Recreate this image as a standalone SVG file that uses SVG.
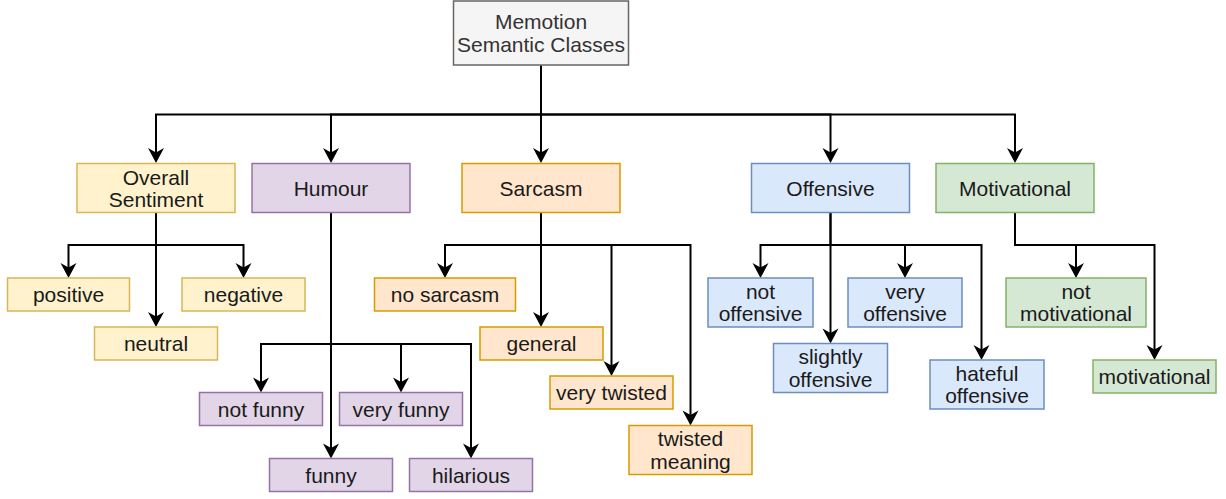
<svg xmlns="http://www.w3.org/2000/svg" width="1226" height="499" viewBox="0 0 1226 499">
<defs>
<marker id="arr" viewBox="-16 -9 20 18" refX="-3" refY="0" markerWidth="20" markerHeight="18" markerUnits="userSpaceOnUse" orient="auto">
<path d="M0,0 L-15,-8 L-10.5,0 L-15,8 Z" fill="#000"/>
</marker>
<style>
rect{stroke-width:1.5}
text{font-family:"Liberation Sans",Arial,sans-serif;font-size:21px;fill:#1a1a1a;text-anchor:middle}
.gray rect{fill:#f5f5f5;stroke:#666666}
.gray text{fill:#333333}
.yel rect{fill:#fff2cc;stroke:#d6b656}
.pur rect{fill:#e1d5e7;stroke:#9673a6}
.ora rect{fill:#ffe6cc;stroke:#d79b00}
.blu rect{fill:#dae8fc;stroke:#6c8ebf}
.gre rect{fill:#d5e8d4;stroke:#82b366}
#connectors path{fill:none;stroke:#000;stroke-width:2;marker-end:url(#arr)}
</style>
</defs>
<rect width="1226" height="499" fill="#fff"/>
<g id="connectors">
<path d="M541,65.5 V114.5 H156 V160"/>
<path d="M541,114.5 H331 V160"/>
<path d="M541,65.5 V160"/>
<path d="M541,114.5 H830.5 V160"/>
<path d="M541,114.5 H1015 V160"/>
<path d="M156,212.5 V245 H68.5 V275"/>
<path d="M156,245 H243.5 V275"/>
<path d="M156,212.5 V324"/>
<path d="M331,212.5 V455.5"/>
<path d="M331,344 H261 V389.5"/>
<path d="M331,344 H401 V389.5"/>
<path d="M331,344 H471 V455.5"/>
<path d="M541,212.5 V245 H445 V275"/>
<path d="M541,212.5 V324"/>
<path d="M541,245 H611.5 V373"/>
<path d="M541,245 H690.5 V422.5"/>
<path d="M830.5,212.5 V245 H760.5 V275"/>
<path d="M830.5,212.5 V340.5"/>
<path d="M830.5,245 H905 V275"/>
<path d="M830.5,245 H981.5 V357"/>
<path d="M1015,212.5 V245 H1076 V275"/>
<path d="M1076,245 H1154.5 V357"/>
</g>
<g id="root" class="gray"><rect x="453.5" y="1" width="175" height="64"/><text x="541" y="29">Memotion</text><text x="541" y="51.5">Semantic Classes</text></g>
<g id="overall" class="yel"><rect x="77" y="163.5" width="158" height="49"/><text x="156" y="184.5">Overall</text><text x="156" y="206.5">Sentiment</text></g>
<g id="humour" class="pur"><rect x="252" y="163.5" width="158" height="49"/><text x="331" y="196">Humour</text></g>
<g id="sarcasm" class="ora"><rect x="462" y="163.5" width="158" height="49"/><text x="541" y="196">Sarcasm</text></g>
<g id="offensive" class="blu"><rect x="751.5" y="163.5" width="158" height="49"/><text x="830.5" y="196">Offensive</text></g>
<g id="motivational" class="gre"><rect x="936" y="163.5" width="158" height="49"/><text x="1015" y="196">Motivational</text></g>
<g id="positive" class="yel"><rect x="7.5" y="278" width="122" height="33"/><text x="68.5" y="302">positive</text></g>
<g id="negative" class="yel"><rect x="182" y="278" width="123" height="33"/><text x="243.5" y="302">negative</text></g>
<g id="neutral" class="yel"><rect x="94.5" y="327" width="123" height="33"/><text x="156" y="351">neutral</text></g>
<g id="notfunny" class="pur"><rect x="199.5" y="392.5" width="123" height="33"/><text x="261" y="416.5">not funny</text></g>
<g id="veryfunny" class="pur"><rect x="339.5" y="392.5" width="123" height="33"/><text x="401" y="416.5">very funny</text></g>
<g id="funny" class="pur"><rect x="269.5" y="458.5" width="123" height="33"/><text x="331" y="482.5">funny</text></g>
<g id="hilarious" class="pur"><rect x="409.5" y="458.5" width="123" height="33"/><text x="471" y="482.5">hilarious</text></g>
<g id="nosarcasm" class="ora"><rect x="374.5" y="278" width="141" height="33"/><text x="445" y="302">no sarcasm</text></g>
<g id="general" class="ora"><rect x="480" y="327" width="123" height="33"/><text x="541.5" y="351">general</text></g>
<g id="verytwisted" class="ora"><rect x="550" y="376" width="123" height="33"/><text x="611.5" y="400">very twisted</text></g>
<g id="twistedmeaning" class="ora"><rect x="629" y="425.5" width="123" height="49"/><text x="690.5" y="446">twisted</text><text x="690.5" y="468.5">meaning</text></g>
<g id="notoffensive" class="blu"><rect x="708" y="278" width="105" height="49"/><text x="760.5" y="298.5">not</text><text x="760.5" y="321">offensive</text></g>
<g id="veryoffensive" class="blu"><rect x="848" y="278" width="114" height="49"/><text x="905" y="298.5">very</text><text x="905" y="321">offensive</text></g>
<g id="slightlyoffensive" class="blu"><rect x="773.5" y="343.5" width="114" height="49"/><text x="830.5" y="364">slightly</text><text x="830.5" y="386.5">offensive</text></g>
<g id="hatefuloffensive" class="blu"><rect x="930" y="360" width="114" height="49"/><text x="987" y="380.5">hateful</text><text x="987" y="403">offensive</text></g>
<g id="notmotivational" class="gre"><rect x="1006" y="278" width="140" height="49"/><text x="1076" y="298.5">not</text><text x="1076" y="321">motivational</text></g>
<g id="motivationalleaf" class="gre"><rect x="1093" y="360" width="123" height="33"/><text x="1154.5" y="384">motivational</text></g>
</svg>
